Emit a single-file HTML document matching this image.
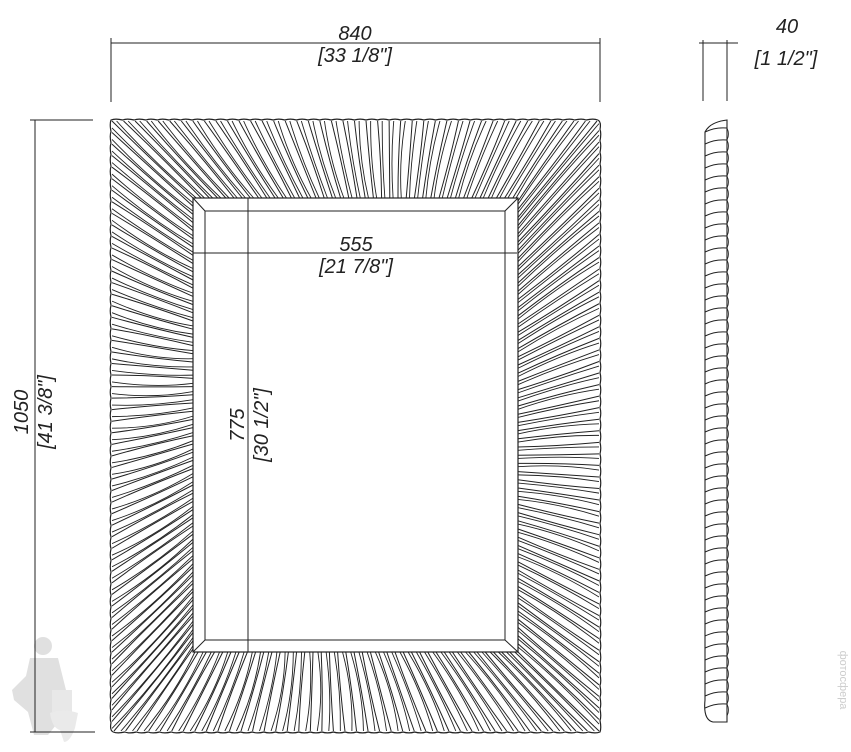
<!DOCTYPE html>
<html><head><meta charset="utf-8">
<style>
html,body{margin:0;padding:0;background:#fff;}
svg{display:block;}
text{font-family:"Liberation Sans",sans-serif;font-style:italic;fill:#222;font-size:20px;}
</style></head>
<body>
<svg id="s" width="851" height="752" viewBox="0 0 851 752" xmlns="http://www.w3.org/2000/svg">
<g fill="#ddd" opacity="0.9">
<circle cx="43" cy="646" r="9"/>
<path d="M30 658 L58 658 L66 690 L60 720 L48 735 L34 735 L28 712 L14 700 L12 690 L26 676 Z"/>
<path d="M52 690 L72 690 L72 712 L52 712 Z" fill="#e6e6e6"/>
<path d="M50 713 Q63 708 78 713 L75 728 Q70 742 64 742 L60 730 Q52 728 50 713 Z" fill="#e8e8e8"/>
</g>
<g id="g" stroke="#222" stroke-width="1" fill="none"></g>
<g stroke="#222" stroke-width="1" fill="none">
<line x1="111" y1="43" x2="600" y2="43"/>
<line x1="111" y1="38" x2="111" y2="102"/>
<line x1="600" y1="38" x2="600" y2="102"/>
<line x1="35" y1="120" x2="35" y2="732"/>
<line x1="30" y1="120" x2="93" y2="120"/>
<line x1="30" y1="732" x2="95" y2="732"/>
<line x1="193" y1="253" x2="517" y2="253"/>
<line x1="248" y1="198" x2="248" y2="652"/>
<line x1="699" y1="43" x2="738" y2="43"/>
<line x1="703" y1="40" x2="703" y2="101"/>
<line x1="727" y1="40" x2="727" y2="101"/>
</g>
<text x="355" y="40" text-anchor="middle">840</text>
<text x="355" y="62" text-anchor="middle">[33 1/8"]</text>
<text x="356" y="251" text-anchor="middle">555</text>
<text x="356" y="273" text-anchor="middle">[21 7/8"]</text>
<text x="787" y="33" text-anchor="middle">40</text>
<text x="786" y="65" text-anchor="middle">[1 1/2"]</text>
<text transform="translate(244,425) rotate(-90)" text-anchor="middle">775</text>
<text transform="translate(268,425) rotate(-90)" text-anchor="middle">[30 1/2"]</text>
<text transform="translate(28,412) rotate(-90)" text-anchor="middle">1050</text>
<text transform="translate(52,412) rotate(-90)" text-anchor="middle">[41 3/8"]</text>
<text transform="translate(840,680) rotate(90)" text-anchor="middle" style="font-size:11px;fill:#ccc;font-style:normal">фотоcфера</text>
</svg>
<script>
var g=document.getElementById('g'),NS='http://www.w3.org/2000/svg';
function el(n,a){var e=document.createElementNS(NS,n);for(var k in a)e.setAttribute(k,a[k]);g.appendChild(e);return e;}
function ptOn(r,t){t=((t%1)+1)%1;
 var w=r[2]-r[0],h=r[3]-r[1],P=2*(w+h),d=t*P;
 if(d<w)return[r[0]+d,r[1]];d-=w;
 if(d<h)return[r[2],r[1]+d];d-=h;
 if(d<w)return[r[2]-d,r[3]];d-=w;
 return[r[0],r[3]-d];}
var O=[112,121,599,731],I=[193,198,518,652];
var N=190;
for(var i=0;i<N;i++){
 var t=i/N,t2=(i+0.4)/N;
 var a=ptOn(I,t),b=ptOn(O,t);
 var a2=ptOn(I,t2),b2=ptOn(O,t2);
 var mx=(a[0]+b[0])/2+Math.sin(i*1.7)*1.5,my=(a[1]+b[1])/2+Math.cos(i*1.7)*1.5;
 el('path',{d:'M'+a[0]+' '+a[1]+' Q'+mx+' '+my+' '+b[0]+' '+b[1]});
 el('path',{d:'M'+a2[0]+' '+a2[1]+' Q'+(mx+1)+' '+(my+1)+' '+b2[0]+' '+b2[1],'stroke-width':0.9});
}
// scalloped outer border
var R=[111,120,600,732],M=190,d='';
for(var i=0;i<M;i++){var p=ptOn(R,i/M),q=ptOn(R,(i+1)/M),c=ptOn(R,(i+0.5)/M);
 var cx=(c[0]-355)*0.006,cy=(c[1]-426)*0.006;
 d+=(i==0?'M'+p[0].toFixed(1)+' '+p[1].toFixed(1):'')+' Q'+(c[0]+cx).toFixed(1)+' '+(c[1]+cy).toFixed(1)+' '+q[0].toFixed(1)+' '+q[1].toFixed(1);}
el('path',{d:d+'Z','stroke-width':1.2});
el('rect',{x:193,y:198,width:325,height:454,fill:'#fff','stroke-width':1.2});
el('rect',{x:205,y:211,width:300,height:429,fill:'#fff'});
el('line',{x1:193,y1:198,x2:205,y2:211});el('line',{x1:518,y1:198,x2:505,y2:211});
el('line',{x1:193,y1:652,x2:205,y2:640});el('line',{x1:518,y1:652,x2:505,y2:640});
// side view
el('path',{d:'M705 132 Q710 122 727 120 L727 722 L713 722 Q703 720 705 700 Z','stroke-width':1.1,fill:'#fff'});
for(var y=132;y<718;y+=12){el('path',{d:'M705 '+y+' Q715 '+(y-5)+' 727 '+(y-4)});
 el('path',{d:'M727 '+(y-4)+' Q730 '+(y+2)+' 727 '+(y+8),'stroke-width':0.8});}
</script>
</body></html>
